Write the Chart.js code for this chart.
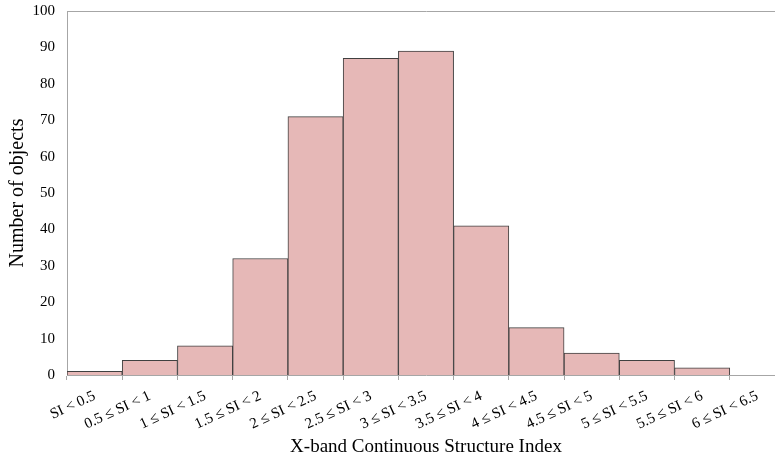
<!DOCTYPE html>
<html>
<head>
<meta charset="utf-8">
<script src="https://cdn.jsdelivr.net/npm/chart.js@4"></script>
<style>
    html, body { margin: 0; padding: 0; background: #fff; overflow: hidden; }
    #wrap { width: 800px; height: 460px; }
</style>
</head>
<body>
<div id="wrap"><canvas id="siChart"></canvas></div>
<script>
const categories = [
    "SI < 0.5", "0.5 ≤ SI < 1", "1 ≤ SI < 1.5", "1.5 ≤ SI < 2", "2 ≤ SI < 2.5",
    "2.5 ≤ SI < 3", "3 ≤ SI < 3.5", "3.5 ≤ SI < 4", "4 ≤ SI < 4.5", "4.5 ≤ SI < 5",
    "5 ≤ SI < 5.5", "5.5 ≤ SI < 6", "6 ≤ SI < 6.5"
];
const counts = [1, 4, 8, 32, 71, 87, 89, 41, 13, 6, 4, 2, 0];
const yTicks = [0, 10, 20, 30, 40, 50, 60, 70, 80, 90, 100];

const serif = "'Liberation Serif', 'Times New Roman', serif";
const axisGray = "#a6a6a6";

const ctx = document.getElementById("siChart");

new Chart(ctx, {
    type: "bar",
    data: {
        labels: categories,
        datasets: [{
            label: "Number of objects",
            data: counts,
            backgroundColor: "#e6b8b7",
            borderColor: "#404040",
            borderWidth: 1,
            barPercentage: 1,
            categoryPercentage: 1
        }]
    },
    options: {
        responsive: true,
        maintainAspectRatio: false,
        animation: false,
        layout: { padding: { top: 11, right: 15, bottom: 0, left: 0 } },
        plugins: {
            legend: { display: false },
            tooltip: { enabled: false }
        },
        scales: {
            x: {
                offset: true,
                grid: {
                    offset: true,
                    drawOnChartArea: false,
                    drawTicks: true,
                    tickLength: 5,
                    color: axisGray
                },
                border: { color: axisGray, width: 1 },
                ticks: {
                    color: "#000",
                    font: { family: serif, size: 15 },
                    minRotation: 25,
                    maxRotation: 25,
                    autoSkip: false,
                    padding: 7
                },
                title: {
                    display: true,
                    text: "X-band Continuous Structure Index",
                    color: "#000",
                    font: { family: serif, size: 19 },
                    padding: { top: 4, bottom: 2 }
                },
                afterFit: (scale) => {
                    scale.height = 85;
                    scale.paddingLeft = 0;
                    scale.paddingRight = 0;
                }
            },
            x2: {
                position: "top",
                grid: { display: false },
                border: { color: axisGray, width: 1 },
                ticks: { display: false },
                afterFit: (scale) => {
                    scale.height = 0;
                    scale.paddingLeft = 0;
                    scale.paddingRight = 0;
                }
            },
            y: {
                min: 0,
                max: 100,
                afterBuildTicks: (scale) => {
                    scale.ticks = yTicks.map(v => ({ value: v }));
                },
                grid: { display: false, drawTicks: false },
                border: { color: axisGray, width: 1 },
                ticks: {
                    color: "#000",
                    font: { family: serif, size: 15 },
                    padding: 12
                },
                title: {
                    display: true,
                    text: "Number of objects",
                    color: "#000",
                    font: { family: serif, size: 20 },
                    padding: { top: 6, bottom: 4 }
                },
                afterFit: (scale) => {
                    scale.width = 67;
                    scale.paddingTop = 0;
                    scale.paddingBottom = 0;
                }
            }
        }
    }
});
</script>
</body>
</html>
